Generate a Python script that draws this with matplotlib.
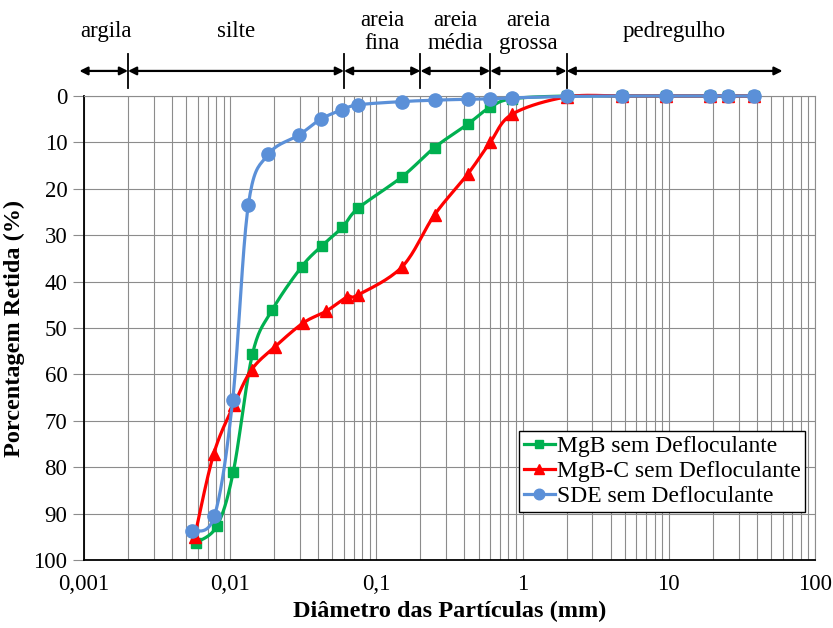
import matplotlib
matplotlib.use("Agg")
import matplotlib.pyplot as plt
import matplotlib.transforms as mtransforms
from matplotlib.lines import Line2D
import numpy as np

plt.rcParams['font.family'] = ['Liberation Serif', 'DejaVu Serif']
plt.rcParams['font.size'] = 16

# diametro das particulas (mm)
d_mgb = [0.0058, 0.0081, 0.0105, 0.0142, 0.0194, 0.0308, 0.0423, 0.0585, 0.075, 0.15,
         0.25, 0.42, 0.6, 0.85, 2.0, 4.75, 9.5, 19.1, 25.4, 38.1]
ret_mgb = [96.3, 92.7, 81.0, 55.6, 46.1, 36.8, 32.3, 28.3, 24.2, 17.4,
           11.1, 6.1, 2.4, 0.6, 0, 0, 0, 0, 0, 0]

d_mgbc = [0.0057, 0.0077, 0.0106, 0.0140, 0.0203, 0.0316, 0.0452, 0.0632, 0.0745, 0.15,
          0.25, 0.42, 0.6, 0.85, 2.0, 4.75, 9.5, 19.1, 25.4, 38.1]
ret_mgbc = [95.1, 77.2, 66.6, 59.0, 54.0, 48.9, 46.4, 43.3, 42.9, 36.8,
            25.6, 16.9, 10.0, 3.9, 0.2, 0, 0, 0, 0, 0]

d_sde = [0.0055, 0.0078, 0.0104, 0.0133, 0.0182, 0.0296, 0.0416, 0.0579, 0.0752, 0.15,
         0.25, 0.42, 0.6, 0.85, 2.0, 4.75, 9.5, 19.1, 25.4, 38.1]
ret_sde = [93.8, 90.5, 65.5, 23.5, 12.6, 8.4, 5.0, 3.0, 1.9, 1.2,
           0.9, 0.7, 0.6, 0.4, 0.1, 0, 0, 0, 0, 0]

# faixas granulometricas
limites = [0.00093, 0.002, 0.06, 0.2, 0.6, 2.0, 60.0]
faixas = ['argila', 'silte', 'areia\nfina', 'areia\nmédia', 'areia\ngrossa', 'pedregulho']


def suave(x, y, n=20):
    # curva suavizada tipo Catmull-Rom em log(x)
    u = np.log10(x) / 5.0 * 731
    v = np.asarray(y, float) / 100.0 * 464
    p = np.column_stack([u, v])
    p = np.vstack([p[0], p, p[-1]])
    pts = []
    for i in range(1, len(p) - 2):
        p0, p1, p2, p3 = p[i - 1], p[i], p[i + 1], p[i + 2]
        c1 = p1 + (p2 - p0) / 6.0
        c2 = p2 - (p3 - p1) / 6.0
        t = np.linspace(0, 1, n)[:, None]
        b = (1 - t) ** 3 * p1 + 3 * (1 - t) ** 2 * t * c1 + 3 * (1 - t) * t ** 2 * c2 + t ** 3 * p2
        pts.append(b)
    pts = np.vstack(pts)
    return 10 ** (pts[:, 0] / 731 * 5.0), pts[:, 1] / 464 * 100.0


fig = plt.figure(figsize=(8.33, 6.28), dpi=100)
ax = fig.add_axes([84 / 833, 68 / 628, 731 / 833, 464 / 628])

series = [
    (d_mgb, ret_mgb, '#00B050', 's', 7, 'MgB sem Defloculante'),
    (d_mgbc, ret_mgbc, '#FF0000', '^', 9, 'MgB-C sem Defloculante'),
    (d_sde, ret_sde, '#5B90D8', 'o', 9.5, 'SDE sem Defloculante'),
]
handles = []
for z, (x, y, cor, mk, ms, nome) in enumerate(series):
    xs, ys = suave(x, y)
    ax.plot(xs, ys, color=cor, lw=2.3, zorder=3 + z, solid_capstyle='round', clip_on=False)
    ax.plot(x, y, ls='none', marker=mk, ms=ms, color=cor, mec=cor, zorder=3 + z, clip_on=False)
    handles.append(Line2D([], [], color=cor, lw=2.3, marker=mk, ms=ms * 0.8, mec=cor))

ax.set_xscale('log')
ax.set_xlim(0.001, 100)
ax.set_ylim(100, 0)
ax.set_yticks(np.arange(0, 101, 10))
ax.set_xticks([0.001, 0.01, 0.1, 1, 10, 100])
ax.set_xticklabels(['0,001', '0,01', '0,1', '1', '10', '100'])
ax.tick_params(axis='x', which='both', length=0, pad=10, labelsize=16.5)
ax.tick_params(axis='y', length=8, color='#8c8c8c', width=0.8, pad=4, labelsize=16.5)
ax.grid(True, which='major', color='#8c8c8c', lw=0.8)
ax.grid(True, which='minor', axis='x', color='#8c8c8c', lw=0.8)
ax.set_axisbelow(True)
for s in ['top', 'right']:
    ax.spines[s].set_color('#8c8c8c')
    ax.spines[s].set_linewidth(0.8)
for s in ['left', 'bottom']:
    ax.spines[s].set_color('black')
    ax.spines[s].set_linewidth(1.3)

ax.set_xlabel('Diâmetro das Partículas (mm)', fontweight='bold', fontsize=17.5, labelpad=4)
ax.set_ylabel('Porcentagem Retida (%)', fontweight='bold', fontsize=17.5, labelpad=6)

# escala de classificacao acima do grafico
trans = mtransforms.blended_transform_factory(ax.transData, ax.transAxes)
ya = 1.054
for a, b in zip(limites[:-1], limites[1:]):
    ax.annotate('', xy=(b, ya), xytext=(a, ya), xycoords=trans, textcoords=trans,
                arrowprops=dict(arrowstyle='<|-|>', color='black', lw=1.6,
                                mutation_scale=12, shrinkA=0, shrinkB=0),
                annotation_clip=False)
for lim in limites[1:-1]:
    ax.plot([lim, lim], [1.017, 1.09], color='black', lw=1.3, transform=trans, clip_on=False)
for a, b, txt in zip(limites[:-1], limites[1:], faixas):
    xm = 10 ** ((np.log10(max(a, 0.001)) + np.log10(b)) / 2)
    ax.text(xm, 1.138, txt, transform=trans, ha='center', va='center',
            fontsize=16.5, linespacing=1.15)

leg = ax.legend(handles, [s[5] for s in series], loc='lower right',
                bbox_to_anchor=(0.987, 0.103), borderaxespad=0, fancybox=False,
                framealpha=1, edgecolor='black', handlelength=1.3, handletextpad=0.1,
                labelspacing=0.15, borderpad=0.2, fontsize=17)
leg.get_frame().set_linewidth(1.0)

fig.savefig('out.png', dpi=100)
